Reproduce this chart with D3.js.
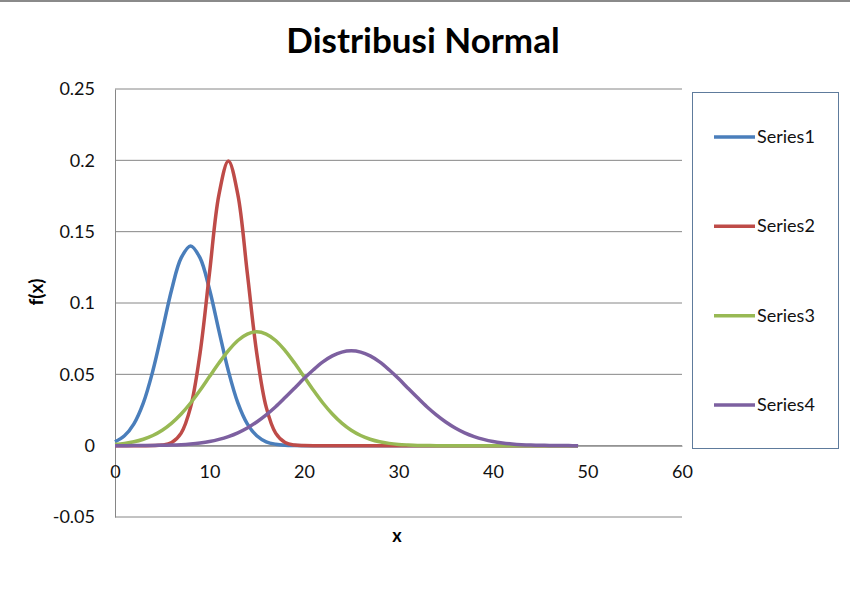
<!DOCTYPE html>
<html>
<head>
<meta charset="utf-8">
<script src="https://cdn.jsdelivr.net/npm/d3@7"></script>
<style>
  body { margin: 0; background: #fff; }
  svg { display: block; font-family: Lato, "Open Sans", sans-serif; }
</style>
</head>
<body>
<svg id="chart" width="850" height="590"></svg>
<script>
// x values, step 1
const xValues = d3.range(0, 50);

const seriesNames = ["Series1", "Series2", "Series3", "Series4"];

const series1 = [0.0027, 0.0069, 0.0153, 0.0300, 0.0523, 0.0805, 0.1095, 0.1316, 0.1400, 0.1316,
  0.1095, 0.0805, 0.0523, 0.0300, 0.0153, 0.0069, 0.0027, 0.0010, 0.0003, 0.0001,
  0, 0, 0, 0, 0, 0, 0, 0, 0, 0,
  0, 0, 0, 0, 0, 0, 0, 0, 0, 0,
  0, 0, 0, 0, 0, 0, 0, 0, 0, 0];

const series2 = [0, 0, 0, 0.00001, 0.00007, 0.0004, 0.0022, 0.0088, 0.0270, 0.0648,
  0.1210, 0.1760, 0.1995, 0.1760, 0.1210, 0.0648, 0.0270, 0.0088, 0.0022, 0.0004,
  0.0001, 0, 0, 0, 0, 0, 0, 0, 0, 0,
  0, 0, 0, 0, 0, 0, 0, 0, 0, 0,
  0, 0, 0, 0, 0, 0, 0, 0, 0, 0];

const series3 = [0.0009, 0.0016, 0.0027, 0.0045, 0.0071, 0.0108, 0.0158, 0.0222, 0.0299, 0.0388,
  0.0484, 0.0579, 0.0666, 0.0737, 0.0782, 0.0798, 0.0782, 0.0737, 0.0666, 0.0579,
  0.0484, 0.0388, 0.0299, 0.0222, 0.0158, 0.0108, 0.0071, 0.0045, 0.0027, 0.0016,
  0.0009, 0.0005, 0.0002, 0.0001, 0, 0, 0, 0, 0, 0,
  0, 0, 0, 0, 0, 0, 0, 0, 0, 0];

const series4 = [0.00001, 0.00002, 0.00004, 0.0001, 0.0001, 0.0003, 0.0004, 0.0007, 0.0012, 0.0019,
  0.0029, 0.0044, 0.0064, 0.0090, 0.0124, 0.0166, 0.0216, 0.0273, 0.0337, 0.0403,
  0.0470, 0.0532, 0.0587, 0.0629, 0.0656, 0.0665, 0.0656, 0.0629, 0.0587, 0.0532,
  0.0470, 0.0403, 0.0337, 0.0273, 0.0216, 0.0166, 0.0124, 0.0090, 0.0064, 0.0044,
  0.0029, 0.0019, 0.0012, 0.0007, 0.0004, 0.0003, 0.0001, 0.0001, 0.00004, 0.00002];

const xTicks = [0, 10, 20, 30, 40, 50, 60];
const yTicks = [-0.05, 0, 0.05, 0.1, 0.15, 0.2, 0.25];
const yTickLabels = ["-0.05", "0", "0.05", "0.1", "0.15", "0.2", "0.25"];

const colors = ["#4a7ebb", "#be4b48", "#98b954", "#7d60a0"];

const svg = d3.select("#chart");

const plot = { left: 115, right: 682, top: 89, bottom: 517 };

const x = d3.scaleLinear().domain([0, 60]).range([plot.left, plot.right]);
const y = d3.scaleLinear().domain([-0.05, 0.25]).range([plot.bottom, plot.top]);

// top border of the picture
svg.append("line")
  .attr("x1", 0).attr("x2", 850)
  .attr("y1", 1).attr("y2", 1)
  .attr("stroke", "#8a8a8a")
  .attr("stroke-width", 2);

// title
svg.append("text")
  .attr("x", 423).attr("y", 53)
  .attr("text-anchor", "middle")
  .style("font-size", "35px")
  .style("font-weight", "bold")
  .attr("fill", "#000")
  .text("Distribusi Normal");

// gridlines
svg.append("g")
  .selectAll("line")
  .data(yTicks)
  .enter()
  .append("line")
  .attr("x1", plot.left).attr("x2", plot.right)
  .attr("y1", d => y(d)).attr("y2", d => y(d))
  .attr("stroke", "#868686")
  .attr("stroke-width", 1);

// y axis (vertical line, labels)
const yAxis = d3.axisLeft(y)
  .tickValues(yTicks)
  .tickSize(0)
  .tickPadding(20)
  .tickFormat((d, i) => yTickLabels[i]);

svg.append("g")
  .attr("transform", `translate(${plot.left},0)`)
  .call(yAxis)
  .call(g => g.select(".domain").attr("stroke", "#868686"))
  .call(g => g.selectAll("text")
    .style("font-size", "18px")
    .style("font-family", "Lato, 'Open Sans', sans-serif")
    .attr("fill", "#111"));

// x axis at y = 0
const xAxis = d3.axisBottom(x)
  .tickValues(xTicks)
  .tickSize(0)
  .tickPadding(20);

svg.append("g")
  .attr("transform", `translate(0,${y(0)})`)
  .call(xAxis)
  .call(g => g.select(".domain").attr("stroke", "#868686"))
  .call(g => g.selectAll("text")
    .style("font-size", "18px")
    .style("font-family", "Lato, 'Open Sans', sans-serif")
    .attr("fill", "#111"));

// axis titles
svg.append("text")
  .attr("x", 397).attr("y", 542)
  .attr("text-anchor", "middle")
  .style("font-size", "18px")
  .style("font-weight", "bold")
  .text("x");

svg.append("text")
  .attr("transform", "translate(43,292) rotate(-90)")
  .attr("text-anchor", "middle")
  .style("font-size", "19px")
  .style("font-weight", "bold")
  .text("f(x)");

// series lines
const allSeries = [series1, series2, series3, series4];

const line = d3.line()
  .x((d, i) => x(xValues[i]))
  .y(d => y(d))
  .curve(d3.curveCatmullRom);

svg.append("g")
  .selectAll("path")
  .data(allSeries)
  .enter()
  .append("path")
  .attr("d", line)
  .attr("fill", "none")
  .attr("stroke", (d, i) => colors[i])
  .attr("stroke-width", 3.5)
  .attr("stroke-linejoin", "round");

// legend
const legend = svg.append("g");

legend.append("rect")
  .attr("x", 692.5).attr("y", 92.5)
  .attr("width", 146).attr("height", 356)
  .attr("fill", "#fff")
  .attr("stroke", "#5e7b9c")
  .attr("stroke-width", 1);

const legendY = d3.scalePoint().domain(seriesNames).range([137, 405]);

const items = legend.selectAll("g.item")
  .data(seriesNames)
  .enter()
  .append("g")
  .attr("class", "item")
  .attr("transform", d => `translate(0,${legendY(d)})`);

items.append("line")
  .attr("x1", 714).attr("x2", 755)
  .attr("stroke", (d, i) => colors[i])
  .attr("stroke-width", 3.5);

items.append("text")
  .attr("x", 757).attr("y", 6)
  .style("font-size", "18px")
  .attr("fill", "#111")
  .text(d => d);
</script>
</body>
</html>
